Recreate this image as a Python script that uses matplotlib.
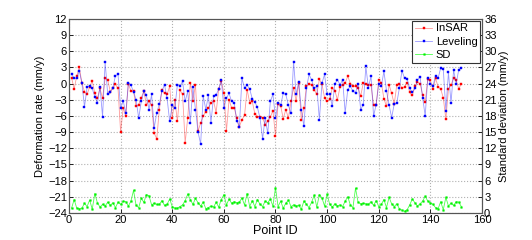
import numpy as np
import matplotlib
matplotlib.use('Agg')
import matplotlib.pyplot as plt

plt.rcParams['font.family'] = ['Liberation Sans', 'DejaVu Sans']

# deformation rate (mm/y), one value per point
insar = [1.1, -1.0, 1.4, 3.0, 0.1, -1.5, -2.0, -0.6, 0.5, -1.8,
         -2.7, -0.9, -2.7, 1.0, 0.7, -1.5, -0.9, -0.1, -0.9, -9.0,
         -4.5, -6.0, 0.0, -1.4, -1.4, -4.2, -3.9, -2.6, -1.4, -3.9,
         -3.3, -4.0, -9.2, -10.2, -4.8, -1.1, -1.8, -2.0, -0.5, -6.4,
         -3.0, -7.0, -1.2, -2.0, -11.0, -6.3, 0.2, -3.2, -0.2, -8.8,
         -7.3, -6.0, -5.2, -4.5, -3.6, -3.2, -5.4, -1.0, 0.4, -1.7,
         -8.8, -3.0, -4.5, -4.5, -6.4, -8.0, -6.7, -5.9, -1.1, -3.5,
         -3.3, -5.6, -6.1, -6.1, -6.4, -7.6, -7.0, -6.2, -5.0, -9.7,
         -3.8, -4.1, -6.5, -4.8, -6.4, -3.3, -0.8, -3.2, 0.1, -6.7,
         -4.5, -0.5, -0.1, -0.2, -1.1, -2.0, 0.8, -0.1, -2.6, -3.3,
         -2.9, -0.8, -1.3, -3.0, -0.6, -0.2, 0.1, 1.4, 0.0, -0.5,
         -0.5, -0.8, -2.3, 0.1, 0.0, -0.2, -0.3, -3.9, -3.9, 0.6,
         0.2, -2.8, -4.2, -0.2, -1.8, -3.8, -0.2, 0.0, -0.9, -0.6,
         0.2, -1.6, -2.2, -0.5, 0.3, 0.0, -2.1, -3.4, 0.8, 0.6,
         -1.0, 1.0, -0.6, -1.0, -2.6, -6.6, -1.0, -0.2, 1.0, 0.6,
         -1.0, 0.0]
leveling = [1.7, 1.0, 1.0, 2.3, 0.1, -4.3, -0.7, -0.4, -0.9, -2.4,
            -3.6, -0.6, -6.1, 4.0, -2.0, -1.5, -0.8, 1.5, 1.7, -4.6,
            -3.2, -5.5, 0.2, -0.3, -1.5, -3.0, -6.4, -3.3, -1.4, -2.2,
            -4.8, -2.0, -8.2, -5.4, -3.8, -1.4, -0.2, -2.7, -7.0, -4.0,
            -4.5, -0.2, -0.4, 0.4, -3.3, -1.4, -7.3, -0.6, -4.8, -9.0,
            -11.2, -2.3, -4.8, -2.2, -7.3, -2.3, -2.1, -1.0, 0.7, -4.5,
            -2.7, -1.8, -3.3, -3.5, -6.9, -8.0, 1.0, -0.8, -0.3, -1.0,
            -2.8, -3.4, -4.4, -6.4, -10.2, -6.4, -9.2, -3.3, -2.0, -6.4,
            -3.5, -4.0, -1.8, -2.0, -4.0, -5.5, 4.1, -2.0, 0.3, -4.8,
            -7.9, -0.8, 1.7, 0.7, -0.9, -0.5, -6.7, 0.1, 1.7, -2.0,
            -2.0, -4.2, 0.0, 0.7, -0.2, 0.7, -5.4, -1.1, -0.5, -1.4,
            -1.7, 0.0, -4.8, -3.9, 3.2, -0.8, 1.4, -6.0, -3.9, 0.0,
            -0.5, 2.3, -1.3, -4.0, -6.3, -3.8, -3.6, -0.8, 2.4, 1.0,
            0.9, -0.9, -1.6, -0.9, 0.6, 1.3, -2.6, -6.0, 1.1, 0.0,
            -0.5, 1.5, 1.0, 2.9, 2.7, -5.0, 2.1, -3.6, 2.5, 0.0,
            2.6, 2.9]
# standard deviation (mm/y), right axis
sd = [0.9, 2.5, 0.9, 0.8, 0.9, 1.8, 1.2, 2.4, 0.7, 3.6,
      1.9, 1.1, 1.6, 1.3, 2.0, 1.4, 1.9, 1.0, 2.0, 1.6,
      2.2, 2.1, 1.3, 2.2, 4.2, 1.4, 1.0, 2.7, 2.0, 3.4,
      3.2, 1.5, 1.8, 1.6, 1.6, 2.3, 1.4, 1.6, 2.6, 1.2,
      0.9, 0.9, 1.2, 1.5, 2.3, 3.5, 2.5, 1.6, 2.7, 1.9,
      1.3, 2.0, 0.8, 1.0, 1.3, 1.1, 2.0, 1.1, 2.5, 3.4,
      1.5, 2.6, 1.8, 2.1, 1.9, 2.0, 2.8, 1.5, 3.6, 1.2,
      2.3, 1.2, 2.5, 1.6, 1.2, 2.2, 1.9, 2.6, 1.3, 4.7,
      1.2, 2.2, 0.9, 1.8, 2.4, 1.2, 1.5, 1.3, 1.4, 0.7,
      2.2, 1.6, 1.0, 2.0, 3.3, 1.1, 3.4, 2.8, 1.3, 3.5,
      1.6, 1.1, 1.7, 1.3, 1.5, 1.2, 2.2, 3.0, 1.5, 1.0,
      4.6, 2.0, 1.7, 1.8, 1.7, 1.6, 2.1, 1.4, 2.3, 1.2,
      1.6, 2.5, 1.0, 2.9, 1.7, 1.2, 1.7, 0.8, 0.5, 0.3,
      0.6, 1.5, 2.6, 1.9, 1.3, 1.7, 2.2, 3.1, 2.2, 1.9,
      1.6, 1.0, 0.8, 2.1, 0.6, 2.9, 1.3, 1.8, 1.4, 2.1,
      2.0, 1.2]

fig = plt.figure(figsize=(5.32, 2.4), dpi=100)
ax = fig.add_axes([0.1297, 0.1125, 0.7763, 0.8085])
ax2 = ax.twinx()

l1, = ax.plot(np.arange(1, len(insar) + 1), insar, color=(1, 0, 0, 0.4), lw=0.6,
              marker='s', ms=1.5, mfc='r', mec='r', mew=0.3, label='InSAR')
l2, = ax.plot(np.arange(1, len(leveling) + 1), leveling, color=(0, 0, 1, 0.4), lw=0.6,
              marker='s', ms=1.5, mfc='b', mec='b', mew=0.3, label='Leveling')
l3, = ax2.plot(np.arange(1, len(sd) + 1), sd, color=(0, 1, 0, 0.7), lw=0.6,
               marker='s', ms=1.2, mfc=(0, 0.95, 0), mec=(0, 0.95, 0), mew=0.3, label='SD')

ax.set_xlim(0, 160)
ax.set_ylim(-24, 12)
ax2.set_ylim(0, 36)
ax.set_xticks(np.arange(0, 161, 20))
ax.set_yticks(np.arange(-24, 13, 3))
ax2.set_yticks(np.arange(0, 37, 3))
ax.grid(True, ls=':', color='#b0b0b0', lw=0.8)

for a in (ax, ax2):
    a.tick_params(direction='in', labelsize=8, length=3, width=0.6, pad=1.5)
    for s in a.spines.values():
        s.set_color('#555555')
        s.set_linewidth(0.8)

ax.set_xlabel('Point ID', fontsize=9, labelpad=0)
ax.set_ylabel('Deformation rate (mm/y)', fontsize=8, labelpad=2)
ax2.set_ylabel('Standard deviation (mm/y)', fontsize=8, labelpad=2)

leg = ax2.legend([l1, l2, l3], ['InSAR', 'Leveling', 'SD'], loc='upper right',
                 fontsize=8, handlelength=1.6, handletextpad=0.3, borderpad=0.25,
                 labelspacing=0.3, borderaxespad=0.15, fancybox=False, framealpha=1)
leg.get_frame().set_edgecolor('#333333')
leg.get_frame().set_linewidth(0.8)

fig.savefig('out.png', dpi=100)
